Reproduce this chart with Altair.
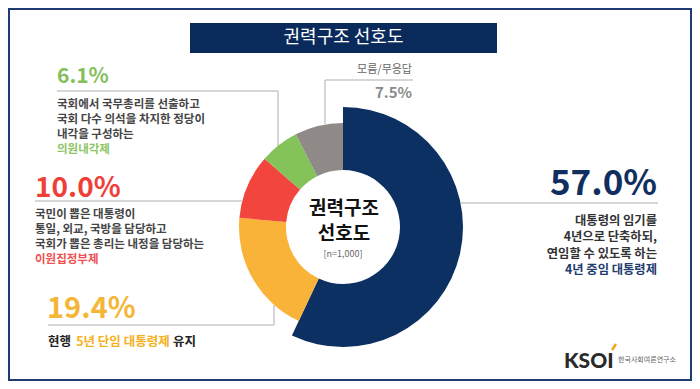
import altair as alt
import pandas as pd

# ---------------- data ----------------
categories = ["4년 중임 대통령제", "현행 5년 단임 대통령제 유지", "이원집정부제", "의원내각제", "모름/무응답"]
values = [57.0, 19.4, 10.0, 6.1, 7.5]
slice_order = [1, 2, 3, 4, 5]
slice_colors = ["#0c3062", "#f8b338", "#f1453d", "#84c35a", "#8f8a87"]

title_text = "권력구조 선호도"
center_lines = ["권력구조", "선호도"]
sample_note = "[n=1,000]"

green_desc = ["국회에서 국무총리를 선출하고", "국회 다수 의석을 차지한 정당이", "내각을 구성하는"]
red_desc = ["국민이 뽑은 대통령이", "통일, 외교, 국방을 담당하고", "국회가 뽑은 총리는 내정을 담당하는"]
blue_desc = ["대통령의 임기를", "4년으로 단축하되,", "연임할 수 있도록 하는"]
yellow_desc = ["현행", "5년 단임 대통령제", "유지"]
dk_label = "모름/무응답"
logo_text = "KSOI"
logo_sub = "한국사회여론연구소"

pct = [f"{v:.1f}%" for v in values]

# ---------------- helpers ----------------
O = 8  # page margin offset
KF = "Noto Sans CJK KR"
dummy = pd.DataFrame({"d": [0]})


def txt(s, x, y, size, color, weight="bold", align="left", baseline="middle", font=KF):
    return alt.Chart(dummy).mark_text(
        text=s, fontSize=size, color=color, fontWeight=weight,
        align=align, baseline=baseline, font=font
    ).encode(x=alt.value(x - O), y=alt.value(y - O))


def rule(x1, y1, x2, y2, color="#c8c8c8", w=1.5):
    return alt.Chart(dummy).mark_rule(color=color, strokeWidth=w).encode(
        x=alt.value(x1 - O), x2=alt.value(x2 - O), y=alt.value(y1 - O), y2=alt.value(y2 - O)
    )


def box(x1, y1, x2, y2, fill):
    return alt.Chart(dummy).mark_rect(fill=fill).encode(
        x=alt.value(x1 - O), x2=alt.value(x2 - O), y=alt.value(y1 - O), y2=alt.value(y2 - O)
    )


layers = []

# frame
layers.append(alt.Chart(dummy).mark_rect(fill="transparent", stroke="#1f3c72", strokeWidth=2).encode(
    x=alt.value(1), x2=alt.value(683), y=alt.value(1), y2=alt.value(372)))

# title box
layers.append(box(190, 23, 497, 53, "#0b2a5c"))
layers.append(txt(title_text, 343.5, 38, 18, "white", weight="normal", align="center"))

# connector lines
layers += [
    rule(57, 91, 278, 91), rule(278, 91, 278, 146),
    rule(35, 201, 242, 201),
    rule(48, 325, 274, 325), rule(274, 325, 274, 305),
    rule(461, 203, 658, 203),
    rule(325, 80, 413, 80), rule(325, 80, 325, 124),
]

# donut (explicit cumulative stacking, clockwise from 12 o'clock)
df = pd.DataFrame({"cat": categories, "value": values, "ord": slice_order})
donut = alt.Chart(df).transform_window(
    cum="sum(value)", sort=[alt.SortField("ord")], frame=[None, 0]
).transform_calculate(
    start="datum.cum - datum.value",
    r=f"datum.cat == '{categories[0]}' ? 120 : 104",
).mark_arc().encode(
    theta=alt.Theta("start:Q", scale=alt.Scale(domain=[0, 100])),
    theta2="cum:Q",
    color=alt.Color("cat:N", scale=alt.Scale(domain=categories, range=slice_colors), legend=None),
    radius=alt.Radius("r:Q", scale=None),
    radius2=alt.value(57),
    x=alt.value(343 - O),
    y=alt.value(227 - O),
)
layers.append(donut)

# center text
layers.append(txt(center_lines[0], 344, 209, 19, "#111111", align="center"))
layers.append(txt(center_lines[1], 344, 234, 19, "#111111", align="center"))
layers.append(txt(sample_note, 343, 254, 9, "#666666", weight="normal", align="center"))

# green (의원내각제)
layers.append(txt(pct[3], 57, 83, 21, "#84bf5c", baseline="alphabetic"))
for i, s in enumerate(green_desc):
    layers.append(txt(s, 57, 105 + 15 * i, 11.5, "#454545"))
layers.append(txt(categories[3], 57, 150, 11.5, "#8cc464"))

# red (이원집정부제)
layers.append(txt(pct[2], 35, 197, 28, "#ef4038", baseline="alphabetic"))
for i, s in enumerate(red_desc):
    layers.append(txt(s, 35, 215 + 15 * i, 11.5, "#454545"))
layers.append(txt(categories[2], 35, 260, 11.5, "#ef5050"))

# yellow (현행 5년 단임 대통령제 유지)
layers.append(txt(pct[1], 47, 318, 29, "#f5b637", baseline="alphabetic"))
fs = 12.5
x0 = 48
x1 = x0 + 2.25 * fs
x2 = x1 + 7.75 * fs
layers.append(txt(yellow_desc[0], x0, 342, fs, "#222222"))
layers.append(txt(yellow_desc[1], x1, 342, fs, "#f5b020"))
layers.append(txt(yellow_desc[2], x2, 342, fs, "#222222"))

# blue (4년 중임 대통령제)
layers.append(txt(pct[0], 657, 195, 35, "#102f5e", align="right", baseline="alphabetic"))
for i, s in enumerate(blue_desc):
    layers.append(txt(s, 657, 221 + 16.4 * i, 12.3, "#333333", align="right"))
layers.append(txt(categories[0], 657, 270.2, 12.3, "#1f3d6e", align="right"))

# gray (모름/무응답)
layers.append(txt(dk_label, 412, 70, 11, "#666666", weight="normal", align="right"))
layers.append(txt(pct[4], 412, 98, 15, "#8a8a8a", align="right", baseline="alphabetic"))

# logo
layers.append(txt(logo_text, 564, 368, 21, "#2a2a2a", weight=900, baseline="alphabetic", font="Lato"))
layers.append(rule(612, 350, 616, 344, color="#f2a51a", w=2.5))
layers.append(txt(logo_sub, 618, 360, 7, "#666666", weight="normal"))

chart = alt.layer(*layers).properties(
    width=684, height=373,
    autosize=alt.AutoSizeParams(type="fit", contains="padding"),
    padding=0,
    background="white",
).configure_view(stroke=None)

chart.save("out.html", embed_options={"renderer": "svg", "actions": False})
